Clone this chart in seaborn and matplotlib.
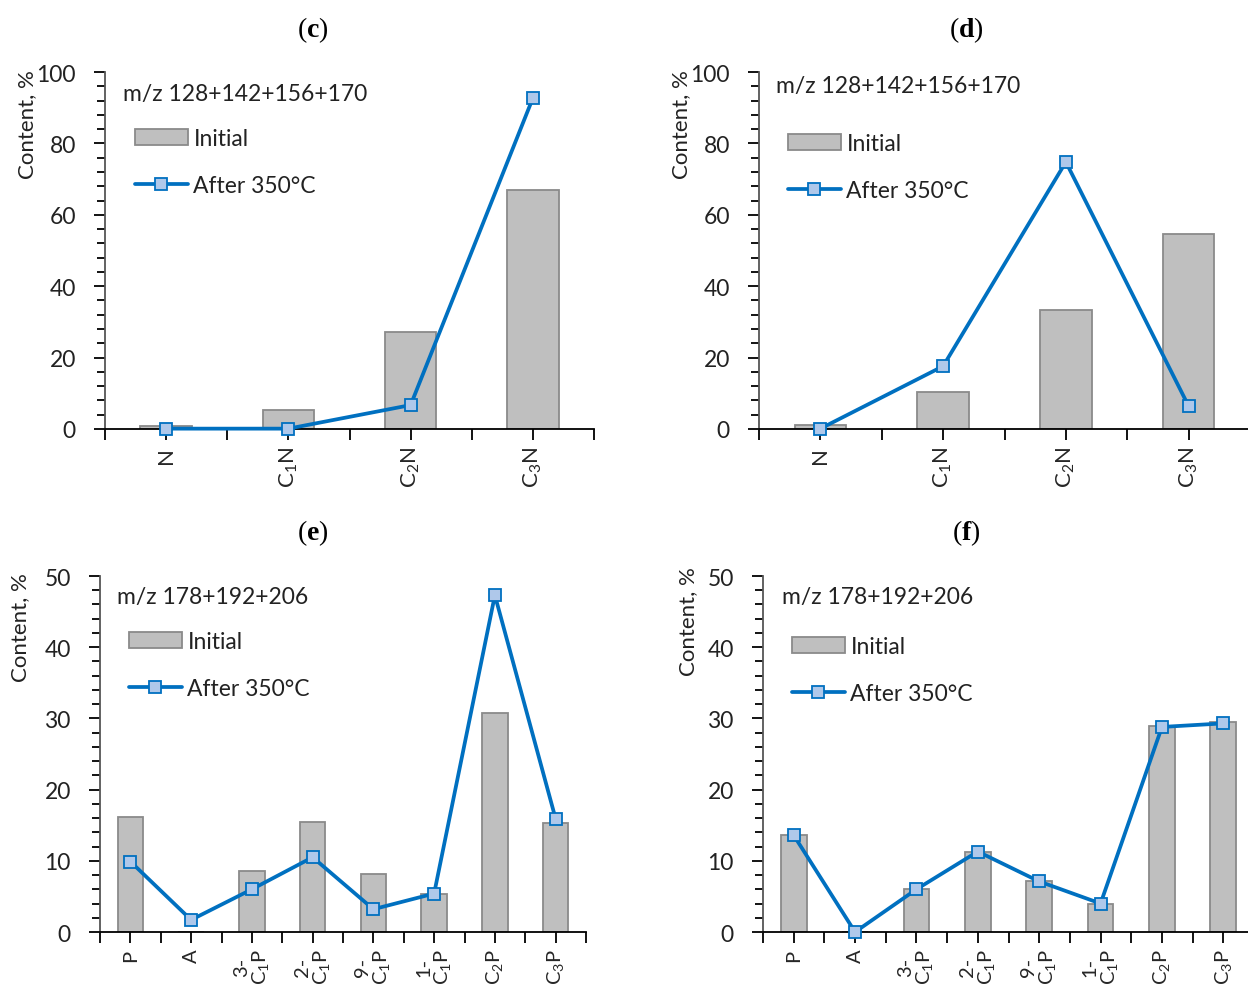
import numpy as np
import pandas as pd
import matplotlib
matplotlib.use('Agg')
import matplotlib.pyplot as plt
import seaborn as sns
from matplotlib.ticker import MultipleLocator, FixedLocator

# ---------------- data ----------------
cats_n = ['N', r'$\mathregular{C_1N}$', r'$\mathregular{C_2N}$', r'$\mathregular{C_3N}$']
c_initial = [0.8, 5.3, 27.1, 67.0]
c_after = [0.1, 0.1, 6.7, 92.7]
d_initial = [1.2, 10.3, 33.3, 54.6]
d_after = [0.1, 17.6, 74.8, 6.4]

cats_p = ['P', 'A', '3-\n' + r'$\mathregular{C_1P}$', '2-\n' + r'$\mathregular{C_1P}$',
          '9-\n' + r'$\mathregular{C_1P}$', '1-\n' + r'$\mathregular{C_1P}$',
          r'$\mathregular{C_2P}$', r'$\mathregular{C_3P}$']
e_initial = [16.1, 0.0, 8.5, 15.5, 8.2, 5.4, 30.8, 15.3]
e_after = [9.9, 1.7, 6.0, 10.5, 3.2, 5.4, 47.3, 15.9]
f_initial = [13.6, 0.0, 6.0, 11.3, 7.1, 4.0, 28.9, 29.5]
f_after = [13.6, 0.0, 6.0, 11.3, 7.1, 4.0, 28.8, 29.3]

panel_titles = ['c', 'd', 'e', 'f']
mz_top = 'm/z 128+142+156+170'
mz_bottom = 'm/z 178+192+206'
ylabel = 'Content, %'
legend_labels = ['Initial', 'After 350°C']

# ---------------- style ----------------
sns.set_theme(style='white')
FONT = ['Lato', 'DejaVu Sans']
plt.rcParams['font.family'] = FONT
plt.rcParams['mathtext.fontset'] = 'custom'
plt.rcParams['mathtext.rm'] = 'Liberation Serif'
plt.rcParams['mathtext.bf'] = 'Liberation Serif:bold'

BAR = '#BFBFBF'
EDGE = '#8A8A8A'
LINE = '#0070C0'
MFC = '#AFC8EA'

W, H = 1248, 987
fig = plt.figure(figsize=(W / 100, H / 100), dpi=100)


def px(x, y):
    return x / W, 1 - y / H


def panel(box, cats, init, after, ymax, major, minor, tick_fs, mz, mz_xy,
          title, title_xy, ylab_xy, leg_xy):
    l, t, r, b = box
    ax = fig.add_axes([l / W, 1 - b / H, (r - l) / W, (b - t) / H])
    sns.barplot(x=cats, y=init, ax=ax, color=BAR, edgecolor=EDGE, linewidth=1.3,
                width=0.42, saturation=1, label=legend_labels[0], zorder=2)
    sns.pointplot(x=cats, y=after, ax=ax, color=LINE, markers='s', linestyles='-',
                  errorbar=None, linewidth=2.7, markersize=9,
                  markerfacecolor=MFC, markeredgecolor=LINE, markeredgewidth=1.3,
                  label=legend_labels[1])
    for ln in ax.lines:
        ln.set_clip_on(False)
        ln.set_zorder(5)
    n = len(cats)
    ax.set_xlim(-0.5, n - 0.5)
    ax.set_ylim(0, ymax)
    ax.set_xlabel('')
    ax.set_ylabel('')
    ax.yaxis.set_major_locator(MultipleLocator(major))
    ax.yaxis.set_minor_locator(MultipleLocator(minor))
    ax.xaxis.set_minor_locator(FixedLocator(np.arange(-0.5, n, 1.0)))
    ax.set_xticks(range(n))
    ax.set_xticklabels(cats, rotation=90, fontsize=tick_fs, ha='center', va='top',
                       multialignment='center', family=FONT, linespacing=1.0)
    ax.tick_params(axis='x', which='both', direction='out', length=8, width=1.3,
                   color='black', pad=4)
    ax.tick_params(axis='y', which='major', direction='out', length=8, width=1.3,
                   color='black', labelsize=16.5, pad=13)
    ax.tick_params(axis='y', which='minor', direction='out', length=6, width=1.3,
                   color='black')
    ax.tick_params(axis='both', which='both', bottom=True, left=True)
    for s in ['top', 'right']:
        ax.spines[s].set_visible(False)
    for s in ['left', 'bottom']:
        ax.spines[s].set_color('black')
        ax.spines[s].set_linewidth(1.3)
    ax.spines['left'].set_color('#555555')
    for lab in ax.get_yticklabels():
        lab.set_color('#222222')

    ax.text(*px(*mz_xy), mz, transform=fig.transFigure, fontsize=16.5, ha='left',
            va='center', color='#222222')
    fig.text(*px(*title_xy), f'($\\mathbf{{{title}}}$)', fontsize=20, ha='center',
             va='center', family='Liberation Serif', color='black')
    fig.text(*px(*ylab_xy), ylabel, rotation=90, fontsize=16, ha='center',
             va='center', color='#222222')
    handles, labels = ax.get_legend_handles_labels()
    order = [labels.index(lbl) for lbl in legend_labels]
    ax.legend([handles[i] for i in order], [labels[i] for i in order],
              loc='upper left', bbox_to_anchor=px(*leg_xy),
              bbox_transform=fig.transFigure, frameon=False, fontsize=16.5,
              handlelength=2.3, handleheight=0.75, handletextpad=0.25,
              labelspacing=1.15, borderpad=0, borderaxespad=0, numpoints=1,
              labelcolor='#222222')
    return ax


panel((105, 73, 594, 430), cats_n, c_initial, c_after, 100, 20, 4, 16,
      mz_top, (123, 94), panel_titles[0], (313, 30), (27, 125), (135, 129))
panel((759, 73, 1250, 430), cats_n, d_initial, d_after, 100, 20, 4, 16,
      mz_top, (776, 86), panel_titles[1], (966, 30), (681, 125), (788, 134))
panel((100, 577, 586, 933), cats_p, e_initial, e_after, 50, 10, 2, 14.5,
      mz_bottom, (117, 598), panel_titles[2], (313, 533), (20, 628), (129, 632))
panel((763, 577, 1254, 933), cats_p, f_initial, f_after, 50, 10, 2, 14.5,
      mz_bottom, (782, 598), panel_titles[3], (966, 533), (688, 622), (792, 637))

fig.savefig('out.png', dpi=100)
